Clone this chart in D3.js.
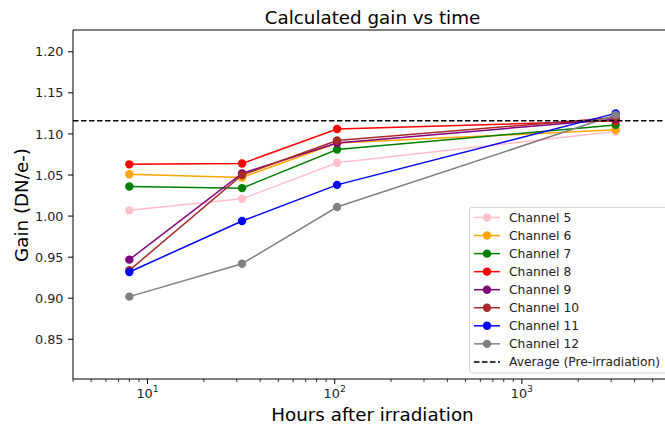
<!DOCTYPE html>
<html>
<head>
<meta charset="utf-8">
<script src="https://cdn.jsdelivr.net/npm/d3@7"></script>
<style>
  body { margin: 0; background: #fff; }
  svg { font-family: "DejaVu Sans", sans-serif; }
</style>
</head>
<body>
<div id="viscontainer"></div>
<script>
const hours = [8, 32, 103, 3170];
const channels = ["Channel 5", "Channel 6", "Channel 7", "Channel 8", "Channel 9", "Channel 10", "Channel 11", "Channel 12"];
const colors = ["pink", "orange", "green", "red", "purple", "brown", "blue", "gray"];
const gains = [
  [1.007, 1.021, 1.065, 1.103],
  [1.051, 1.047, 1.089, 1.105],
  [1.036, 1.034, 1.081, 1.111],
  [1.063, 1.064, 1.106, 1.116],
  [0.947, 1.052, 1.089, 1.118],
  [0.934, 1.050, 1.092, 1.120],
  [0.932, 0.994, 1.038, 1.125],
  [0.902, 0.942, 1.011, 1.123]
];
const preIrradiationAvg = 1.116;
const yTicks = [0.85, 0.90, 0.95, 1.00, 1.05, 1.10, 1.15, 1.20];
const xMajorTicks = [10, 100, 1000];

const width = 665;
const height = 427;
const plotLeft = 73, plotRight = 672, plotTop = 30, plotBottom = 379;

const svg = d3.select("#viscontainer")
  .append("svg")
  .attr("width", width)
  .attr("height", height);

const x = d3.scaleLog().domain([4, 6340]).range([plotLeft, plotRight]);
const y = d3.scaleLinear().domain([0.8017, 1.2265]).range([plotBottom, plotTop]);

// axes spines
svg.append("line")
  .attr("x1", plotLeft).attr("x2", plotLeft).attr("y1", plotTop).attr("y2", plotBottom)
  .attr("stroke", "#000").attr("stroke-width", 1);
svg.append("line")
  .attr("x1", plotLeft).attr("x2", plotRight).attr("y1", plotBottom).attr("y2", plotBottom)
  .attr("stroke", "#000").attr("stroke-width", 1);
svg.append("line")
  .attr("x1", plotLeft).attr("x2", plotRight).attr("y1", plotTop).attr("y2", plotTop)
  .attr("stroke", "#000").attr("stroke-width", 1);

// y ticks
const yAxis = svg.append("g");
yTicks.forEach(t => {
  yAxis.append("line")
    .attr("x1", plotLeft - 5).attr("x2", plotLeft)
    .attr("y1", y(t)).attr("y2", y(t))
    .attr("stroke", "#000");
  yAxis.append("text")
    .attr("x", plotLeft - 9.5).attr("y", y(t))
    .attr("dy", "0.36em")
    .attr("text-anchor", "end")
    .attr("font-size", 12.8)
    .attr("fill", "#222")
    .text(t.toFixed(2));
});

// x ticks (log, with minor)
const xAxis = svg.append("g");
const minor = [];
for (let d = 1; d <= 1000; d *= 10) {
  for (let m = 2; m <= 9; m++) minor.push(d * m);
}
minor.filter(v => v >= 4 && v <= 6340).forEach(v => {
  xAxis.append("line")
    .attr("x1", x(v)).attr("x2", x(v))
    .attr("y1", plotBottom).attr("y2", plotBottom + 3)
    .attr("stroke", "#000").attr("stroke-width", 0.8);
});
xMajorTicks.forEach(v => {
  xAxis.append("line")
    .attr("x1", x(v)).attr("x2", x(v))
    .attr("y1", plotBottom).attr("y2", plotBottom + 5)
    .attr("stroke", "#000");
  const t = xAxis.append("text")
    .attr("x", x(v)).attr("y", plotBottom + 19)
    .attr("text-anchor", "middle")
    .attr("font-size", 12.8)
    .attr("fill", "#222");
  t.append("tspan").text("10");
  t.append("tspan")
    .attr("dy", -6)
    .attr("font-size", 9.2)
    .text(Math.round(Math.log10(v)));
});

// labels
svg.append("text")
  .attr("x", 372.5).attr("y", 24)
  .attr("text-anchor", "middle")
  .attr("font-size", 18.3)
  .text("Calculated gain vs time");

svg.append("text")
  .attr("x", 372.5).attr("y", 420.5)
  .attr("text-anchor", "middle")
  .attr("font-size", 18.3)
  .text("Hours after irradiation");

svg.append("text")
  .attr("transform", "translate(27.5,205) rotate(-90)")
  .attr("text-anchor", "middle")
  .attr("font-size", 18.3)
  .text("Gain (DN/e-)");

// series
const plot = svg.append("g");
const line = d3.line()
  .x((d, i) => x(hours[i]))
  .y(d => y(d));

channels.forEach((name, k) => {
  const g = plot.append("g");
  g.append("path")
    .datum(gains[k])
    .attr("d", line)
    .attr("fill", "none")
    .attr("stroke", colors[k])
    .attr("stroke-width", 1.5);
  g.selectAll("circle")
    .data(gains[k])
    .join("circle")
    .attr("cx", (d, i) => x(hours[i]))
    .attr("cy", d => y(d))
    .attr("r", 4.2)
    .attr("fill", colors[k]);
});

plot.append("line")
  .attr("x1", plotLeft).attr("x2", plotRight)
  .attr("y1", y(preIrradiationAvg)).attr("y2", y(preIrradiationAvg))
  .attr("stroke", "#000")
  .attr("stroke-width", 1.5)
  .attr("stroke-dasharray", "5.5,2.5");

// legend
const legend = svg.append("g");
legend.append("rect")
  .attr("x", 469.5).attr("y", 207.5)
  .attr("width", 210).attr("height", 165.5)
  .attr("rx", 2.5)
  .attr("fill", "#fff").attr("fill-opacity", 0.85)
  .attr("stroke", "#d6d6d6");

const entries = channels.map((c, i) => ({ name: c, color: colors[i], dash: false }))
  .concat([{ name: "Average (Pre-irradiation)", color: "#000", dash: true }]);

entries.forEach((e, i) => {
  const ey = 217.5 + i * 18.05;
  legend.append("line")
    .attr("x1", 474).attr("x2", 500)
    .attr("y1", ey).attr("y2", ey)
    .attr("stroke", e.color)
    .attr("stroke-width", 1.5)
    .attr("stroke-dasharray", e.dash ? "5.5,2.5" : null);
  if (!e.dash) {
    legend.append("circle")
      .attr("cx", 487).attr("cy", ey)
      .attr("r", 4.2)
      .attr("fill", e.color);
  }
  legend.append("text")
    .attr("x", 509).attr("y", ey)
    .attr("dy", "0.36em")
    .attr("font-size", 12.3)
    .attr("fill", "#222")
    .text(e.name);
});
</script>
</body>
</html>
